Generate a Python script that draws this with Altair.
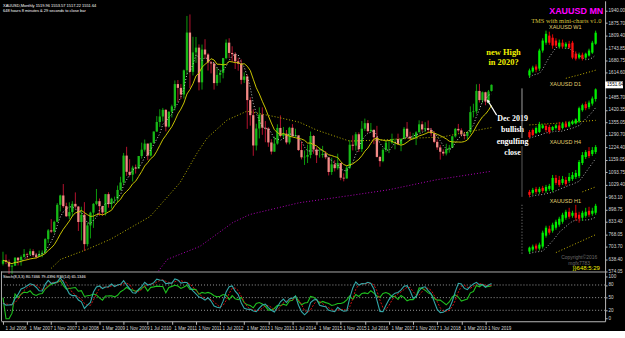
import altair as alt
import pandas as pd

# ---------------- monthly XAUUSD bars (Jul 2006 .. Jan 2020) ----------------
opens = [614, 632, 624, 599, 604, 646,
         632, 650, 665, 662, 680, 659, 650, 665, 672, 743, 789, 783,
         834, 923, 972, 916, 863, 885, 928, 914, 833, 871, 717, 815,
         882, 928, 942, 916, 883, 979, 927, 955, 955, 1001, 1040, 1181,
         1096, 1081, 1118, 1113, 1179, 1212, 1244, 1181, 1248, 1307, 1357, 1386,
         1421, 1333, 1411, 1439, 1556, 1536, 1501, 1628, 1826, 1620, 1722, 1747,
         1565, 1737, 1711, 1669, 1664, 1561, 1604, 1615, 1692, 1773, 1719, 1713,
         1675, 1663, 1578, 1596, 1472, 1393, 1234, 1323, 1396, 1327, 1323, 1250,
         1202, 1244, 1326, 1284, 1296, 1250, 1327, 1282, 1287, 1210, 1172, 1175,
         1184, 1284, 1213, 1183, 1184, 1190, 1172, 1095, 1135, 1115, 1142, 1065,
         1061, 1118, 1238, 1233, 1293, 1215, 1322, 1351, 1309, 1316, 1277, 1174,
         1152, 1211, 1249, 1249, 1268, 1268, 1242, 1269, 1322, 1280, 1271, 1275,
         1303, 1345, 1318, 1325, 1315, 1298, 1253, 1224, 1201, 1192, 1215, 1222,
         1282, 1321, 1313, 1292, 1284, 1305, 1409, 1413, 1520, 1472, 1513, 1464,
         1520]
highs = [677, 663, 636, 610, 648, 648,
         658, 691, 672, 693, 690, 671, 683, 684, 748, 796, 848, 840,
         932, 976, 1032, 934, 936, 942, 988, 916, 913, 937, 830, 887,
         932, 1006, 956, 918, 980, 989, 960, 966, 1024, 1070, 1195, 1227,
         1162, 1128, 1134, 1179, 1249, 1265, 1244, 1249, 1308, 1388, 1424, 1431,
         1424, 1413, 1448, 1575, 1577, 1556, 1632, 1913, 1921, 1804, 1803, 1764,
         1763, 1791, 1718, 1677, 1666, 1642, 1631, 1693, 1790, 1796, 1754, 1723,
         1694, 1685, 1617, 1605, 1487, 1424, 1348, 1434, 1434, 1362, 1330, 1267,
         1280, 1345, 1392, 1331, 1315, 1332, 1346, 1322, 1287, 1255, 1208, 1238,
         1307, 1289, 1224, 1224, 1232, 1205, 1172, 1170, 1157, 1191, 1142, 1088,
         1127, 1263, 1287, 1304, 1303, 1362, 1375, 1367, 1352, 1318, 1337, 1180,
         1220, 1264, 1262, 1296, 1270, 1296, 1270, 1331, 1357, 1306, 1299, 1309,
         1366, 1361, 1356, 1365, 1326, 1309, 1266, 1237, 1214, 1243, 1237, 1284,
         1326, 1347, 1324, 1303, 1306, 1439, 1453, 1555, 1557, 1517, 1516, 1525,
         1554]
lows = [605, 612, 560, 560, 603, 605,
        604, 646, 636, 661, 650, 641, 649, 648, 668, 723, 776, 776,
        834, 888, 907, 859, 849, 861, 904, 786, 736, 681, 705, 747,
        802, 921, 866, 866, 867, 908, 904, 930, 937, 998, 1029, 1075,
        1072, 1045, 1087, 1113, 1165, 1202, 1157, 1176, 1243, 1306, 1331, 1360,
        1308, 1328, 1381, 1418, 1462, 1478, 1480, 1605, 1534, 1601, 1667, 1523,
        1527, 1688, 1627, 1612, 1527, 1547, 1563, 1586, 1686, 1692, 1672, 1635,
        1626, 1555, 1562, 1321, 1338, 1180, 1208, 1271, 1290, 1251, 1227, 1187,
        1200, 1238, 1277, 1268, 1240, 1240, 1281, 1280, 1206, 1161, 1132, 1142,
        1167, 1191, 1142, 1170, 1170, 1162, 1077, 1080, 1098, 1107, 1052, 1046,
        1061, 1111, 1208, 1207, 1200, 1200, 1310, 1301, 1302, 1241, 1171, 1123,
        1146, 1200, 1194, 1241, 1214, 1236, 1204, 1267, 1272, 1261, 1265, 1236,
        1303, 1307, 1303, 1302, 1282, 1246, 1211, 1160, 1180, 1182, 1196, 1221,
        1276, 1302, 1281, 1266, 1267, 1295, 1381, 1400, 1459, 1458, 1445, 1453,
        1517]
closes = [632, 624, 599, 604, 646, 632,
          650, 665, 662, 680, 659, 650, 665, 672, 743, 789, 783, 834,
          923, 972, 916, 863, 885, 928, 914, 833, 871, 717, 815, 882,
          928, 942, 916, 883, 979, 927, 955, 955, 1001, 1040, 1181, 1096,
          1081, 1118, 1113, 1179, 1212, 1244, 1181, 1248, 1307, 1357, 1386, 1421,
          1333, 1411, 1439, 1556, 1536, 1501, 1628, 1826, 1620, 1722, 1747, 1565,
          1737, 1711, 1669, 1664, 1561, 1604, 1615, 1692, 1773, 1719, 1713, 1675,
          1663, 1578, 1596, 1472, 1393, 1234, 1323, 1396, 1327, 1323, 1250, 1202,
          1244, 1326, 1284, 1296, 1250, 1327, 1282, 1287, 1210, 1172, 1175, 1184,
          1284, 1213, 1183, 1184, 1190, 1172, 1095, 1135, 1115, 1142, 1065, 1061,
          1118, 1238, 1233, 1293, 1215, 1322, 1351, 1309, 1316, 1277, 1174, 1152,
          1211, 1249, 1249, 1268, 1268, 1242, 1269, 1322, 1280, 1271, 1275, 1303,
          1345, 1318, 1325, 1315, 1298, 1253, 1224, 1201, 1192, 1215, 1222, 1282,
          1321, 1313, 1292, 1284, 1305, 1409, 1413, 1520, 1472, 1513, 1464, 1517,
          1552]

# long moving averages (bar index, price)
slow_ma_idx = [16, 19.1, 28, 35.6, 48.8, 58.7, 64.4, 67.7, 74.3, 80.9, 90.8, 98.3, 104,
               114.9, 125.7, 137, 145.5, 152.1, 162]
slow_ma_val = [590, 637, 690, 742, 862, 1039, 1195, 1273, 1367, 1414, 1383, 1356, 1315,
               1257, 1263, 1273, 1278, 1299, 1328]
ma200_idx = [51.5, 54.5, 65.3, 76.2, 81.8, 98.3, 114.8, 128, 143.6, 162]
ma200_val = [575, 637, 705, 830, 872, 934, 971, 1002, 1054, 1099]

tick_idx = list(range(0, 161, 8))
tick_labels = ["1 Jul 2006", "1 Mar 2007", "1 Nov 2007", "1 Jul 2008", "1 Mar 2009",
               "1 Nov 2009", "1 Jul 2010", "1 Mar 2011", "1 Nov 2011", "1 Jul 2012",
               "1 Mar 2013", "1 Nov 2013", "1 Jul 2014", "1 Mar 2015", "1 Nov 2015",
               "1 Jul 2016", "1 Mar 2017", "1 Nov 2017", "1 Jul 2018", "1 Mar 2019",
               "1 Nov 2019"]
price_ticks = [1940.00, 1875.70, 1809.40, 1743.85, 1680.75, 1614.60, 1485.70, 1420.35,
               1355.05, 1290.70, 1224.40, 1159.05, 1093.75, 1029.40, 963.10, 898.75,
               833.40, 768.05, 703.70, 638.40, 574.05]
last_price = 1551.64
sub_ticks = [0, 20, 50, 80, 100]

# mini charts (W1, D1, H4, H1) – 21 bars each
w1_o = [1388, 1403, 1422, 1414, 1483, 1513, 1540, 1532, 1521, 1498, 1513, 1498, 1509, 1513, 1471, 1456, 1467, 1456, 1464, 1475, 1509]
w1_h = [1414, 1425, 1430, 1490, 1530, 1559, 1555, 1545, 1530, 1525, 1525, 1515, 1520, 1520, 1480, 1475, 1475, 1475, 1490, 1520, 1559]
w1_l = [1380, 1398, 1400, 1405, 1475, 1505, 1505, 1490, 1495, 1490, 1490, 1490, 1490, 1450, 1445, 1450, 1445, 1450, 1460, 1470, 1505]
w1_c = [1407, 1418, 1410, 1483, 1521, 1547, 1513, 1502, 1502, 1513, 1498, 1509, 1494, 1456, 1452, 1467, 1452, 1471, 1483, 1513, 1551]
w1_ma_k = [12, 16, 21]
w1_ma_v = [1377, 1390, 1408]

d1_o = [1470, 1474, 1468, 1470, 1478, 1482, 1480, 1474, 1478, 1483, 1478, 1487, 1481, 1486, 1487, 1491, 1513, 1525, 1519, 1526, 1535]
d1_h = [1474, 1477, 1481, 1490, 1486, 1486, 1484, 1482, 1486, 1490, 1490, 1492, 1492, 1494, 1497, 1520, 1526, 1530, 1532, 1540, 1556]
d1_l = [1458, 1462, 1466, 1468, 1476, 1470, 1466, 1472, 1475, 1472, 1475, 1478, 1479, 1484, 1485, 1488, 1510, 1513, 1515, 1522, 1530]
d1_c = [1460, 1464, 1478, 1485, 1483, 1474, 1470, 1480, 1483, 1474, 1487, 1480, 1489, 1491, 1495, 1517, 1523, 1517, 1528, 1536, 1554]
d1_ma_k = [1, 11, 21]
d1_ma_v = [1484, 1488, 1493]

h4_o = [1511, 1510, 1514, 1511, 1515, 1512, 1514, 1513, 1525, 1523, 1520, 1523, 1522, 1524, 1526, 1527, 1540, 1546, 1552, 1549, 1551]
h4_h = [1513, 1515, 1516, 1516, 1517, 1518, 1519, 1528, 1528, 1527, 1527, 1526, 1530, 1531, 1533, 1543, 1551, 1553, 1556, 1556, 1558]
h4_l = [1506, 1508, 1509, 1509, 1510, 1510, 1512, 1511, 1518, 1516, 1518, 1517, 1520, 1522, 1524, 1525, 1538, 1544, 1545, 1547, 1549]
h4_c = [1508, 1513, 1511, 1514, 1512, 1516, 1517, 1525, 1520, 1518, 1524, 1519, 1526, 1528, 1530, 1541, 1548, 1551, 1547, 1553, 1556]
h4_ma_k = [17, 21]
h4_ma_v = [1511, 1516]

h1_o = [1501, 1503, 1507, 1504, 1506, 1517, 1524, 1522, 1525, 1528, 1531, 1535, 1541, 1537, 1540, 1538, 1535, 1537, 1542, 1539, 1540]
h1_h = [1506, 1508, 1509, 1510, 1522, 1527, 1527, 1530, 1533, 1536, 1540, 1543, 1545, 1542, 1548, 1541, 1542, 1545, 1546, 1545, 1549]
h1_l = [1499, 1501, 1502, 1502, 1504, 1515, 1518, 1520, 1523, 1526, 1529, 1533, 1534, 1535, 1532, 1530, 1532, 1535, 1536, 1537, 1538]
h1_c = [1505, 1506, 1504, 1508, 1520, 1525, 1520, 1528, 1531, 1534, 1538, 1541, 1536, 1540, 1535, 1534, 1540, 1541, 1538, 1542, 1547]
h1_ma_k = [9, 15, 21]
h1_ma_v = [1500, 1509, 1518]

# ---------------- layout / styling ----------------
W = 607
H_MAIN = 272
H_SUB = 50
FONT = "Liberation Sans"
SERIF = "Liberation Serif"
AX = "#b8b8b8"
LAB = "#d8d8d8"
BULL_BODY = "#17b917"
BULL_WICK = "#0c9a0c"
BEAR_BODY = "#f28a86"
BEAR_WICK = "#b3122e"

X_DOM = [-0.66, 199.67]           # bar index across the plot width
Y_DOM = [573.5, 1992.5]           # price across the main plot height
PX_PER_BAR = W / (X_DOM[1] - X_DOM[0])
PRICE_PER_PX = (Y_DOM[1] - Y_DOM[0]) / H_MAIN

n = len(closes)
main_df = pd.DataFrame({"i": list(range(n)), "o": opens, "h": highs, "l": lows, "c": closes})

xs = alt.Scale(domain=X_DOM, nice=False, zero=False)
ys = alt.Scale(domain=Y_DOM, nice=False, zero=False)
y_axis = alt.Axis(orient="right", values=price_ticks, format=".2f", labelFontSize=4.6,
                  labelColor=LAB, labelFont=FONT, tickColor=AX, tickSize=2,
                  domainColor=AX, grid=False, labelPadding=1, labelOverlap=False,
                  labelFlush=False, title=None)


def xm(field="i"):
    return alt.X(f"{field}:Q", scale=xs, axis=None, title=None)


def ym(field):
    return alt.Y(f"{field}:Q", scale=ys, axis=y_axis, title=None)


def txt(s, x, y, size=5, color="#ffffff", font=FONT, weight="normal", align="left",
        baseline="middle", lh=None):
    kw = dict(fontSize=size, color=color, font=font, fontWeight=weight, align=align,
              baseline=baseline)
    if lh:
        kw["lineBreak"] = "\n"
        kw["lineHeight"] = lh
    return alt.Chart(pd.DataFrame({"t": [s]})).mark_text(**kw).encode(
        text="t:N", x=alt.value(x), y=alt.value(y))


def prule(x1, y1, x2, y2, color, dash=None, width=1):
    kw = dict(color=color, strokeWidth=width)
    if dash:
        kw["strokeDash"] = dash
    return alt.Chart(pd.DataFrame({"a": [0]})).mark_rule(**kw).encode(
        x=alt.value(x1), y=alt.value(y1), x2=alt.value(x2), y2=alt.value(y2))


up = "datum.c >= datum.o"
base = alt.Chart(main_df)
wicks = base.mark_rule(strokeWidth=1).encode(
    x=xm(), y=ym("l"), y2="h:Q",
    color=alt.condition(up, alt.value(BULL_WICK), alt.value(BEAR_WICK)))
bodies = base.mark_rule(strokeWidth=2.3).encode(
    x=xm(), y=ym("o"), y2="c:Q",
    color=alt.condition(up, alt.value(BULL_BODY), alt.value(BEAR_BODY)))
ma_fast = base.transform_window(m="mean(c)", frame=[-4, 0], sort=[alt.SortField("i")]).mark_line(
    color="#c8c8c8", strokeWidth=1, strokeDash=[1, 2]).encode(x=xm(), y=ym("m"))
ma_mid = base.transform_window(m="mean(c)", frame=[-9, 0], sort=[alt.SortField("i")]).mark_line(
    color="#c9c400", strokeWidth=1).encode(x=xm(), y=ym("m"))
slow_line = alt.Chart(pd.DataFrame({"i": slow_ma_idx, "v": slow_ma_val})).mark_line(
    color="#b8b000", strokeWidth=1, strokeDash=[1, 2], clip=True).encode(x=xm(), y=ym("v"))
ma200_line = alt.Chart(pd.DataFrame({"i": ma200_idx, "v": ma200_val})).mark_line(
    color="#b000b8", strokeWidth=1, strokeDash=[1, 2], clip=True).encode(x=xm(), y=ym("v"))

box_df = pd.DataFrame({"v": [last_price], "hi": [last_price + 18], "lo": [last_price - 18],
                       "lab": [f"{last_price:.2f}"]})
price_box = alt.Chart(box_df).mark_rect(color="#ffffff").encode(
    x=alt.value(607), x2=alt.value(625), y=ym("hi"), y2="lo:Q")
price_txt = alt.Chart(box_df).mark_text(fontSize=4.6, color="#000000", align="left",
                                        baseline="middle", font=FONT).encode(
    text="lab:N", x=alt.value(609), y=ym("v"))

arrow_df = pd.DataFrame({"i": [163.7], "i2": [160.9], "p": [1393], "p2": [1466]})
arrow = alt.Chart(arrow_df).mark_rule(color="#ffffff", strokeWidth=1.2).encode(
    x=xm(), x2="i2:Q", y=ym("p"), y2="p2:Q")
arrow_head = alt.Chart(arrow_df).mark_point(shape="triangle", filled=True, size=14,
                                           angle=329, color="#ffffff", opacity=1).encode(
    x=xm("i2"), y=ym("p2"))


# mini charts are drawn on the main scales: each panel maps its bar number and its own
# price into a small box at the right of the main chart
mini_box = {  # first-bar pixel, pixels per bar, top price, pixel of top price, price per pixel
    "W1": (531, 3.325, 1559, 30, 3.8),
    "D1": (531, 3.325, 1556, 88, 1.96),
    "H4": (531, 3.325, 1556, 147, 1.0),
    "H1": (531, 3.325, 1548, 205, 1.0),
}


def to_i(name, k):
    x0, dx, _, _, _ = mini_box[name]
    px = x0 + (k - 1) * dx
    return px / PX_PER_BAR + X_DOM[0]


def to_p(name, p):
    _, _, ptop, ytop, ppp = mini_box[name]
    py = ytop + (ptop - p) / ppp
    return Y_DOM[1] - py * PRICE_PER_PX


def mini(name, o, h, l, c, ma_k, ma_v):
    k = list(range(1, len(c) + 1))
    df = pd.DataFrame({
        "i": [to_i(name, v) for v in k],
        "o": [to_p(name, v) for v in o], "h": [to_p(name, v) for v in h],
        "l": [to_p(name, v) for v in l], "c": [to_p(name, v) for v in c],
    })
    b = alt.Chart(df)
    wk = b.mark_rule(strokeWidth=1).encode(
        x=xm(), y=ym("l"), y2="h:Q",
        color=alt.condition(up, alt.value("#00d000"), alt.value("#e00000")))
    bd = b.mark_rule(strokeWidth=2.3).encode(
        x=xm(), y=ym("o"), y2="c:Q",
        color=alt.condition(up, alt.value("#00f000"), alt.value("#ff1010")))
    gr = b.transform_window(m="mean(l)", frame=[-4, 0], sort=[alt.SortField("i")]).mark_line(
        color="#b0b0b0", strokeWidth=1, strokeDash=[1, 2]).encode(x=xm(), y=ym("m"))
    mdf = pd.DataFrame({"i": [to_i(name, v) for v in ma_k], "v": [to_p(name, v) for v in ma_v]})
    yl = alt.Chart(mdf).mark_line(color="#c8b400", strokeWidth=1,
                                  strokeDash=[1, 2]).encode(x=xm(), y=ym("v"))
    return [gr, yl, wk, bd]


minis = (mini("W1", w1_o, w1_h, w1_l, w1_c, w1_ma_k, w1_ma_v)
         + mini("D1", d1_o, d1_h, d1_l, d1_c, d1_ma_k, d1_ma_v)
         + mini("H4", h4_o, h4_h, h4_l, h4_c, h4_ma_k, h4_ma_v)
         + mini("H1", h1_o, h1_h, h1_l, h1_c, h1_ma_k, h1_ma_v))

main_panel = alt.layer(
    wicks, bodies, ma_fast, ma_mid, slow_line, ma200_line, *minis,
    price_box, price_txt, arrow, arrow_head,
    txt("XAUUSD,Monthly  1519.96 1553.57 1517.22 1551.64", 2, 5, size=4.0),
    txt("648 hours 8 minutes & 29 seconds to close bar", 2, 10.5, size=4.0),
    txt("XAUUSD MN", 578, 10, size=9, color="#ff00ff", weight="bold", align="center"),
    txt("TMS with mini-charts v1.0", 568, 20, size=6.5, color="#d9c23c", font=SERIF, align="center"),
    txt("XAUUSD W1", 567, 26.5, size=5.5, color="#e0d070", align="center"),
    txt("XAUUSD D1", 567, 84, size=5.5, color="#e0d070", align="center"),
    txt("XAUUSD H4", 567, 142, size=5.5, color="#e0d070", align="center"),
    txt("XAUUSD H1", 567, 201, size=5.5, color="#e0d070", align="center"),
    txt("new High\nin 2020?", 505, 47, size=8.5, color="#f0f000", font=SERIF, weight="bold",
        align="center", baseline="top", lh=11),
    txt("Dec 2019\nbullish\nengulfing\nclose", 514, 115, size=8, color="#ffffff", font=SERIF,
        weight="bold", align="center", baseline="top", lh=11.3),
    txt("Copyright\u00a92016\nmgfx7783", 581, 257, size=5, color="#6a6a6a", align="center",
        lh=6),
    txt("}}648:5:29", 588, 268.5, size=6, color="#f0f000", align="center"),
    prule(523.5, 88, 523.5, 138, "#a0a0a0"),
    prule(523.5, 146, 523.5, 197, "#5a5a5a"),
    prule(523.5, 205, 523.5, 255, "#8a8a8a", dash=[1, 2]),
).properties(width=W, height=H_MAIN)

# ---------------- sub window: Stochastic + RSI ----------------
label_expr = "[" + ",".join(f"'{t}'" for t in tick_labels) + "][round(datum.value/8)]"
x_axis = alt.Axis(values=tick_idx, labelExpr=label_expr, labelFontSize=4.6, labelColor=LAB,
                  labelFont=FONT, labelAlign="left", labelOffset=2, labelPadding=1, tickSize=3,
                  tickColor=AX, domainColor=AX, grid=False, labelFlush=False,
                  labelOverlap=False, title=None)
xs_sub = alt.X("i:Q", scale=xs, axis=x_axis, title=None)
ys2 = alt.Scale(domain=[-6, 112], nice=False, zero=False)
sub_axis = alt.Axis(orient="right", values=sub_ticks, format="d", labelFontSize=4.6,
                    labelColor=LAB, labelFont=FONT, tickColor=AX, tickSize=2, domainColor=AX,
                    grid=False, labelPadding=1, labelOverlap=False, labelFlush=False, title=None)


def ysub(f):
    return alt.Y(f"{f}:Q", scale=ys2, axis=sub_axis, title=None)


srt = [alt.SortField("i")]
ind = alt.Chart(main_df).transform_window(
    ll="min(l)", hh="max(h)", frame=[-7, 0], sort=srt
).transform_calculate(
    num="datum.c - datum.ll", den="datum.hh - datum.ll"
).transform_window(
    snum="sum(num)", sden="sum(den)", frame=[-2, 0], sort=srt
).transform_calculate(
    k="datum.sden > 0 ? 100 * datum.snum / datum.sden : 50"
).transform_window(
    d="mean(k)", frame=[-2, 0], sort=srt
).transform_window(
    prev="first_value(c)", frame=[-1, 0], sort=srt
).transform_calculate(
    gain="max(datum.c - datum.prev, 0)",
    loss="max(datum.prev - datum.c, 0)"
).transform_window(
    ag="mean(gain)", al="mean(loss)", frame=[-13, 0], sort=srt
).transform_calculate(
    rsi="(datum.ag + datum.al) > 0 ? 100 * datum.ag / (datum.ag + datum.al) : 50"
)

levels = alt.Chart(pd.DataFrame({"lv": [20, 50, 80]})).mark_rule(
    color="#9a9a9a", strokeWidth=1, strokeDash=[1, 2]).encode(y=ysub("lv"))
rsi_line = ind.mark_line(color="#1fc01f", strokeWidth=1.1).encode(x=xs_sub, y=ysub("rsi"))
d_line = ind.mark_line(color="#d01010", strokeWidth=1, strokeDash=[2, 1.5]).encode(x=xs_sub, y=ysub("d"))
k_line = ind.mark_line(color="#33a8a8", strokeWidth=1.1).encode(x=xs_sub, y=ysub("k"))

sub_panel = alt.layer(
    levels, rsi_line, d_line, k_line,
    prule(0, 0.5, W, 0.5, "#a8a8a8"),
    prule(0.5, 0, 0.5, H_SUB, "#a8a8a8"),
    txt("Stoch(8,3,3) 80.7466 79.4396   RSI(14) 65.1346", 2, 5.5, size=4.0),
).properties(width=W, height=H_SUB)

chart = alt.vconcat(main_panel, sub_panel, spacing=0).properties(
    background="#000000", padding=0, bounds="flush"
).configure(font=FONT).configure_view(stroke=None)

chart.save("out.html", embed_options={"renderer": "svg", "actions": False})
